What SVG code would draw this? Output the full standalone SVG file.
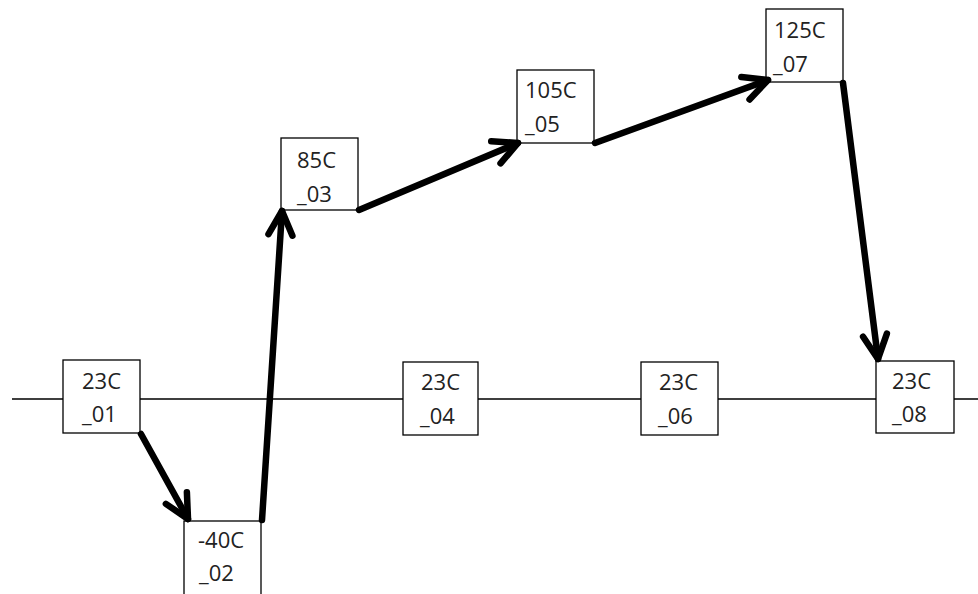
<svg xmlns="http://www.w3.org/2000/svg" width="978" height="594" viewBox="0 0 978 594">
<style>
.box{fill:#fff;stroke:#000;stroke-width:1.3}
.lbl{font-family:"Open Sans","Liberation Sans",sans-serif;font-size:22px;fill:#222}
.axis{stroke:#000;stroke-width:1.3;fill:none}
.arr{stroke:#000;stroke-width:6.5;fill:none;stroke-linecap:round;marker-end:url(#ah)}
</style>
<defs>
<marker id="ah" markerUnits="userSpaceOnUse" viewBox="-30 -16 34 32" refX="0" refY="0" markerWidth="34" markerHeight="32" orient="auto" overflow="visible">
<path d="M-24,-12 L0,0 L-24,12" fill="none" stroke="#000" stroke-width="6.5" stroke-linecap="round" stroke-linejoin="round"/>
</marker>
</defs>
<rect width="978" height="594" fill="#fff"/>
<g id="axis">
<path class="axis" d="M12,399 H63 M140,399 H403 M478,399 H641 M718,399 H876 M953,399 H978"/>
</g>
<g id="n01"><rect class="box" x="63" y="360" width="77" height="73"/><text class="lbl" x="82" y="389">23C</text><text class="lbl" x="82" y="422">_01</text></g>
<g id="n02"><rect class="box" x="184" y="521" width="77" height="76"/><text class="lbl" x="198" y="548">-40C</text><text class="lbl" x="199" y="581">_02</text></g>
<g id="n03"><rect class="box" x="281" y="138" width="77" height="72"/><text class="lbl" x="297" y="168">85C</text><text class="lbl" x="297" y="202">_03</text></g>
<g id="n04"><rect class="box" x="403" y="362" width="75" height="73"/><text class="lbl" x="421" y="390">23C</text><text class="lbl" x="420" y="424">_04</text></g>
<g id="n05"><rect class="box" x="517" y="70" width="77" height="73"/><text class="lbl" x="525" y="98">105C</text><text class="lbl" x="525" y="132">_05</text></g>
<g id="n06"><rect class="box" x="641" y="362" width="77" height="73"/><text class="lbl" x="659" y="390">23C</text><text class="lbl" x="658" y="424">_06</text></g>
<g id="n07"><rect class="box" x="766" y="9" width="77" height="73"/><text class="lbl" x="774" y="38">125C</text><text class="lbl" x="773" y="72">_07</text></g>
<g id="n08"><rect class="box" x="876" y="361" width="78" height="72"/><text class="lbl" x="892" y="389">23C</text><text class="lbl" x="892" y="422">_08</text></g>
<g id="connectors">
<path class="arr" d="M141,434 L188,519"/>
<path class="arr" d="M262,520 L282,211"/>
<path class="arr" d="M359,210 L518,143"/>
<path class="arr" d="M595,143 L768,80"/>
<path class="arr" d="M843,83 L878,359"/>
</g>
</svg>
